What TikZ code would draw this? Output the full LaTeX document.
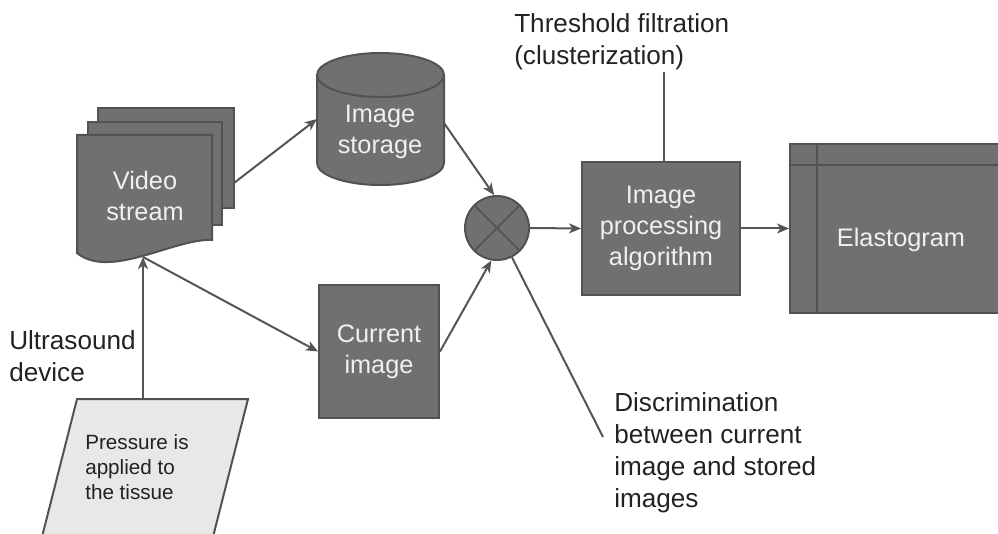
\documentclass[tikz,border=0pt]{standalone}
\usepackage{fontspec}
\setmainfont{Liberation Sans}
\usetikzlibrary{arrows.meta}

\definecolor{boxfill}{RGB}{112,112,112}
\definecolor{boxline}{RGB}{82,82,82}
\definecolor{boxtext}{RGB}{240,240,240}
\definecolor{linegray}{RGB}{85,85,85}
\definecolor{lbltext}{RGB}{34,34,34}
\definecolor{paperfill}{RGB}{232,232,232}

\tikzset{
  blk/.style={draw=boxline,fill=boxfill,line width=1.5pt},
  blktext/.style={text=boxtext,align=center,inner sep=0pt,font=\fontsize{19}{23.5}\selectfont},
  lbl/.style={text=lbltext,align=left,inner sep=0.75pt,font=\fontsize{19.6}{24}\selectfont},
  conn/.style={draw=linegray,line width=1.5pt},
  arr/.style={conn,-{Stealth[length=9pt,width=7.5pt,inset=2.5pt]}}
}

\begin{document}
\begin{tikzpicture}[x=0.75pt,y=0.75pt,yscale=-1,xscale=1]
\useasboundingbox (0,0) rectangle (998,534);
\clip (0,0) rectangle (998,534);

%Multi document: video stream
\draw [blk] (98,108) rectangle (234,208) ;
\draw [blk] (88,122) rectangle (222,225) ;
\draw [blk] (77,135) -- (212,135) -- (212,240) .. controls (175,238) and (110,280) .. (77,253) -- cycle ;
\node [blktext] (video) at (145,196) {Video\\stream};
\coordinate (vidR) at (234,183);
\coordinate (vidB) at (143,257);

%Cylinder: image storage
\draw [blk] (317,75) -- (317,163) arc (180:0:63.5 and 22) -- (444,75) arc (0:-180:63.5 and 22) -- cycle ;
\draw [blk] (317,75) arc (180:0:63.5 and 22) ;
\node [blktext] (storage) at (380,132) {Image\\storage};
\coordinate (stL) at (317,119);
\coordinate (stR) at (444,123);

%Current image
\node [blk,blktext,minimum width=90pt,minimum height=99.75pt] (current) at (379,351.5) {Current\\image};

%Comparison
\node [blk,circle,minimum size=48pt,inner sep=0pt] (merge) at (497,228) {};
\draw [conn] (merge.45) -- (merge.225) ;
\draw [conn] (merge.135) -- (merge.-45) ;

%Image processing
\node [blk,blktext,minimum width=118.5pt,minimum height=99.75pt] (proc) at (661,228.5) {Image\\processing\\algorithm};

%Elastogram
\node [blk,minimum width=165pt,minimum height=126.75pt] (elasto) at (900,228.5) {};
\draw [conn,draw=boxline] (790,165) -- (1012,165) ;
\draw [conn,draw=boxline] (817,144) -- (817,313) ;
\node [blktext] (elastotext) at (901,240) {Elastogram};

%Pressure
\draw [draw=boxline,fill=paperfill,line width=1.5pt] (77,399) -- (248,399) -- (197,600) -- (26,600) -- cycle ;
\node [lbl,anchor=west,font=\fontsize{15.5}{19}\selectfont] (press) at (84,467) {Pressure is\\applied to\\the tissue};
\coordinate (prTop) at (143,399);

%Connectors
\draw [arr] (prTop) -- (vidB) ;
\draw [arr] (vidR) -- (stL) ;
\draw [arr] (vidB) -- (current.west) ;
\draw [arr] (stR) -- (merge.95) ;
\draw [arr] (current.east) -- (merge.-100) ;
\draw [arr] (merge.east) -- (proc.west) ;
\draw [arr] (proc.east) -- (elasto.west) ;

% Text Node
\node [lbl,anchor=west] (thrtext) at (513,41.5) {Threshold filtration\\(clusterization)};
\coordinate (thr) at (664,72);
\draw [conn] (thr) -- (thr |- proc.north) ;
% Text Node
\node [lbl,anchor=west] (ustext) at (8,356) {Ultrasound\\device};
% Text Node
\node [lbl,anchor=west] (disctext) at (613,453) {Discrimination\\between current\\image and stored\\images};
\coordinate (disc) at (603,437);
\draw [conn] (merge.-63) -- (disc) ;

\end{tikzpicture}
\end{document}
